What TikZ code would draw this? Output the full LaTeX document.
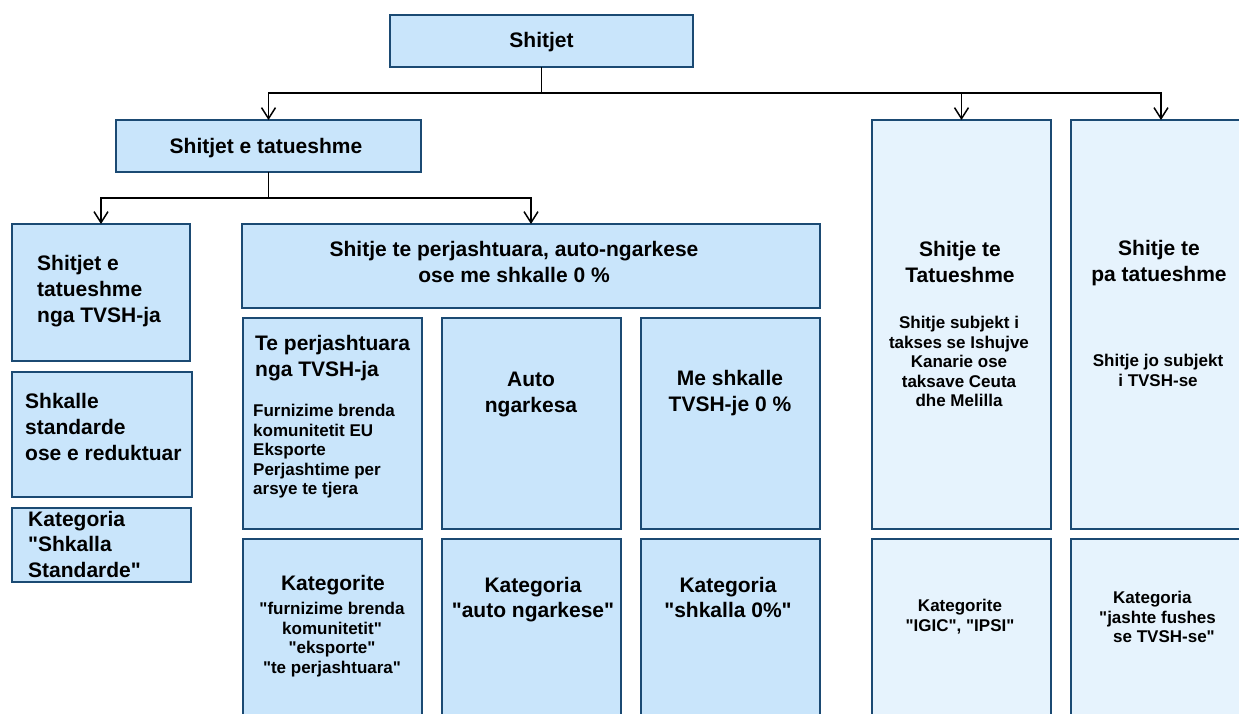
\documentclass[tikz,border=0pt]{standalone}
\usepackage{fontspec}
\setmainfont{Liberation Sans}[Ligatures=TeXOff]
\usetikzlibrary{arrows.meta}
\definecolor{fillA}{HTML}{C9E5FB}
\definecolor{fillB}{HTML}{E6F3FD}
\definecolor{edgeblue}{HTML}{1B4A73}
\begin{document}
\begin{tikzpicture}[x=1pt,y=-1pt,
  box/.style={draw=edgeblue, line width=1.6pt, fill=fillA, anchor=north west, inner sep=0pt, outer sep=0pt},
  lbox/.style={box, fill=fillB},
  big/.style={font=\fontsize{21}{26}\selectfont\bfseries, inner sep=0pt, align=center},
  small/.style={font=\fontsize{17}{19.5}\selectfont\bfseries, inner sep=0pt, align=center},
  conn/.style={line width=1.5pt, black},
  arr/.style={conn, -{Straight Barb[length=11pt,width=14pt,line width=1.5pt]}}
]
\useasboundingbox (0,0) rectangle (1239,713);
\fill[white] (0,0) rectangle (1239,713);
\clip (0,0) rectangle (1239,713);

% boxes
\node[box, minimum width=303, minimum height=52] (root) at (390,15) {};
\node[box, minimum width=305, minimum height=52] (tat) at (116,120) {};
\node[box, minimum width=178, minimum height=137] (ntv) at (12,224) {};
\node[box, minimum width=180, minimum height=125] (shk) at (12,372) {};
\node[box, minimum width=179, minimum height=74] (kst) at (12,508) {};
\node[box, minimum width=578, minimum height=84] (per) at (242,224) {};
\node[box, minimum width=179, minimum height=211] (tpe) at (243,318) {};
\node[box, minimum width=179, minimum height=211] (aut) at (442,318) {};
\node[box, minimum width=179, minimum height=211] (mes) at (641,318) {};
\node[box, minimum width=179, minimum height=200] (kpe) at (243,539) {};
\node[box, minimum width=179, minimum height=200] (kau) at (442,539) {};
\node[box, minimum width=179, minimum height=200] (ksh) at (641,539) {};
\node[lbox, minimum width=179, minimum height=409] (rtat) at (872,120) {};
\node[lbox, minimum width=180, minimum height=409] (rpa) at (1071,120) {};
\node[lbox, minimum width=179, minimum height=200] (kig) at (872,539) {};
\node[lbox, minimum width=180, minimum height=200] (kja) at (1071,539) {};

% connectors
\coordinate (j1) at (541.5,93);
\coordinate (j2) at (268.5,198);
\draw[conn] (root.south) -- (j1);
\draw[arr] (j1) -| (tat.north);
\draw[arr] (j1) -| (rtat.north);
\draw[arr] (j1) -| (rpa.north);
\draw[conn] (tat.south) -- (j2);
\draw[arr] (j2) -| (ntv.north);
\draw[arr] (j2) -| (per.north);

% texts
\node[big, anchor=base] (t-root) at (541.5,47) {Shitjet};
\node[big, anchor=base] (t-tat) at (266,153) {Shitjet e tatueshme};
\node[big, align=left, anchor=north west] (t-ntv) at (37,255) {Shitjet e\\tatueshme\\nga TVSH-ja};
\node[big, anchor=north] (t-per) at (514,241) {Shitje te perjashtuara, auto-ngarkese\\ose me shkalle 0 \%};
\node[big, align=left, anchor=north west] (t-shk) at (25,393) {Shkalle\\standarde\\ose e reduktuar};
\node[big, align=left, anchor=north west, font=\fontsize{21}{25.5}\selectfont\bfseries] (t-kst) at (28,511) {Kategoria\\"Shkalla\\Standarde"};
\node[big, align=left, anchor=north west] (t-tpe) at (255,335) {Te perjashtuara\\nga TVSH-ja};
\node[small, align=left, anchor=north west] (t-tpe2) at (253,404) {Furnizime brenda\\komunitetit EU\\Eksporte\\Perjashtime per\\arsye te tjera};
\node[big, anchor=north] (t-aut) at (531,372) {Auto\\ngarkesa};
\node[big, anchor=north] (t-mes) at (730,370) {Me shkalle\\TVSH-je 0 \%};
\node[big, anchor=north] (t-kpe) at (333,575) {Kategorite};
\node[small, anchor=north] (t-kpe2) at (332,602) {"furnizime brenda\\komunitetit"\\"eksporte"\\"te perjashtuara"};
\node[big, anchor=north, font=\fontsize{21}{25}\selectfont\bfseries] (t-kau) at (533,577) {Kategoria\\"auto ngarkese"};
\node[big, anchor=north, font=\fontsize{21}{25}\selectfont\bfseries] (t-ksh) at (728,577) {Kategoria\\"shkalla 0\%"};
\node[big, anchor=north] (t-rtat) at (960,241) {Shitje te\\Tatueshme};
\node[small, anchor=north] (t-rtat2) at (959,316) {Shitje subjekt i\\takses se Ishujve\\Kanarie ose\\taksave Ceuta\\dhe Melilla};
\node[big, anchor=north] (t-rpa) at (1159,240) {Shitje te\\pa tatueshme};
\node[small, anchor=north] (t-rpa2) at (1158,354) {Shitje jo subjekt\\i TVSH-se};
\node[small, anchor=north] (t-kig) at (960,599) {Kategorite\\"IGIC", "IPSI"};
\node[small, align=left, anchor=north west] (t-kja) at (1099,591) {\hspace*{14pt}Kategoria\\"jashte fushes\\\hspace*{14pt}se TVSH-se"};
\end{tikzpicture}
\end{document}
